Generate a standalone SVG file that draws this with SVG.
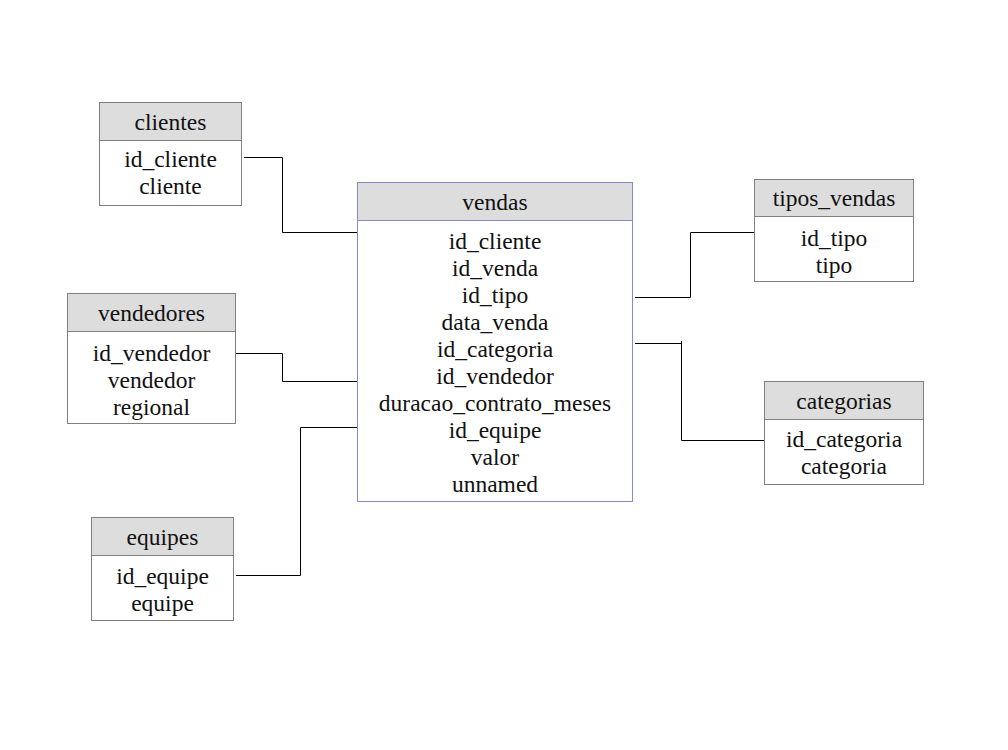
<svg xmlns="http://www.w3.org/2000/svg" width="1008" height="750" viewBox="0 0 1008 750">
<style>
.box{fill:#ffffff;stroke:#808080;stroke-width:1}
.hdr{fill:#dddddd;stroke:#808080;stroke-width:1}
.vbox{fill:#ffffff;stroke:#8888cc;stroke-width:1}
.vhdr{fill:#dddddd;stroke:#8888cc;stroke-width:1}
text{font-family:"Liberation Serif","Times New Roman",serif;font-size:23.5px;fill:#111111;text-anchor:middle}
.conn{fill:none;stroke:#000000;stroke-width:1}
</style>
<rect width="1008" height="750" fill="#ffffff"/>
<g id="connectors">
<path class="conn" d="M244,157.5 H282.5 V232.5 H357"/>
<path class="conn" d="M236,353.5 H282.5 V381.5 H357"/>
<path class="conn" d="M236,575.5 H300.5 V427.5 H357"/>
<path class="conn" d="M635,297.5 H690.5 V232.5 H754"/>
<path class="conn" d="M635,343.5 H681.5 M681.5,341 V440.5 H764"/>
</g>
<g id="clientes">
<rect class="box" x="99.5" y="102.5" width="142" height="103"/>
<rect class="hdr" x="99.5" y="102.5" width="142" height="38"/>
<text x="170.5" y="130">clientes</text>
<text x="170.5" y="167">id_cliente</text>
<text x="170.5" y="194">cliente</text>
</g>
<g id="vendas">
<rect class="vbox" x="357.5" y="182.5" width="275" height="319"/>
<rect class="vhdr" x="357.5" y="182.5" width="275" height="38"/>
<text x="495" y="210">vendas</text>
<text x="495" y="249">id_cliente</text>
<text x="495" y="276">id_venda</text>
<text x="495" y="303">id_tipo</text>
<text x="495" y="330">data_venda</text>
<text x="495" y="357">id_categoria</text>
<text x="495" y="384">id_vendedor</text>
<text x="495" y="411">duracao_contrato_meses</text>
<text x="495" y="438">id_equipe</text>
<text x="495" y="465">valor</text>
<text x="495" y="492">unnamed</text>
</g>
<g id="tipos_vendas">
<rect class="box" x="754.5" y="179.5" width="159" height="102"/>
<rect class="hdr" x="754.5" y="179.5" width="159" height="37"/>
<text x="834" y="206">tipos_vendas</text>
<text x="834" y="246">id_tipo</text>
<text x="834" y="273">tipo</text>
</g>
<g id="categorias">
<rect class="box" x="764.5" y="381.5" width="159" height="103"/>
<rect class="hdr" x="764.5" y="381.5" width="159" height="38"/>
<text x="844" y="409">categorias</text>
<text x="844" y="447">id_categoria</text>
<text x="844" y="474">categoria</text>
</g>
<g id="vendedores">
<rect class="box" x="67.5" y="293.5" width="168" height="130"/>
<rect class="hdr" x="67.5" y="293.5" width="168" height="38"/>
<text x="151.5" y="321">vendedores</text>
<text x="151.5" y="361">id_vendedor</text>
<text x="151.5" y="388">vendedor</text>
<text x="151.5" y="415">regional</text>
</g>
<g id="equipes">
<rect class="box" x="91.5" y="517.5" width="142" height="103"/>
<rect class="hdr" x="91.5" y="517.5" width="142" height="38"/>
<text x="162.5" y="545">equipes</text>
<text x="162.5" y="584">id_equipe</text>
<text x="162.5" y="611">equipe</text>
</g>
</svg>
